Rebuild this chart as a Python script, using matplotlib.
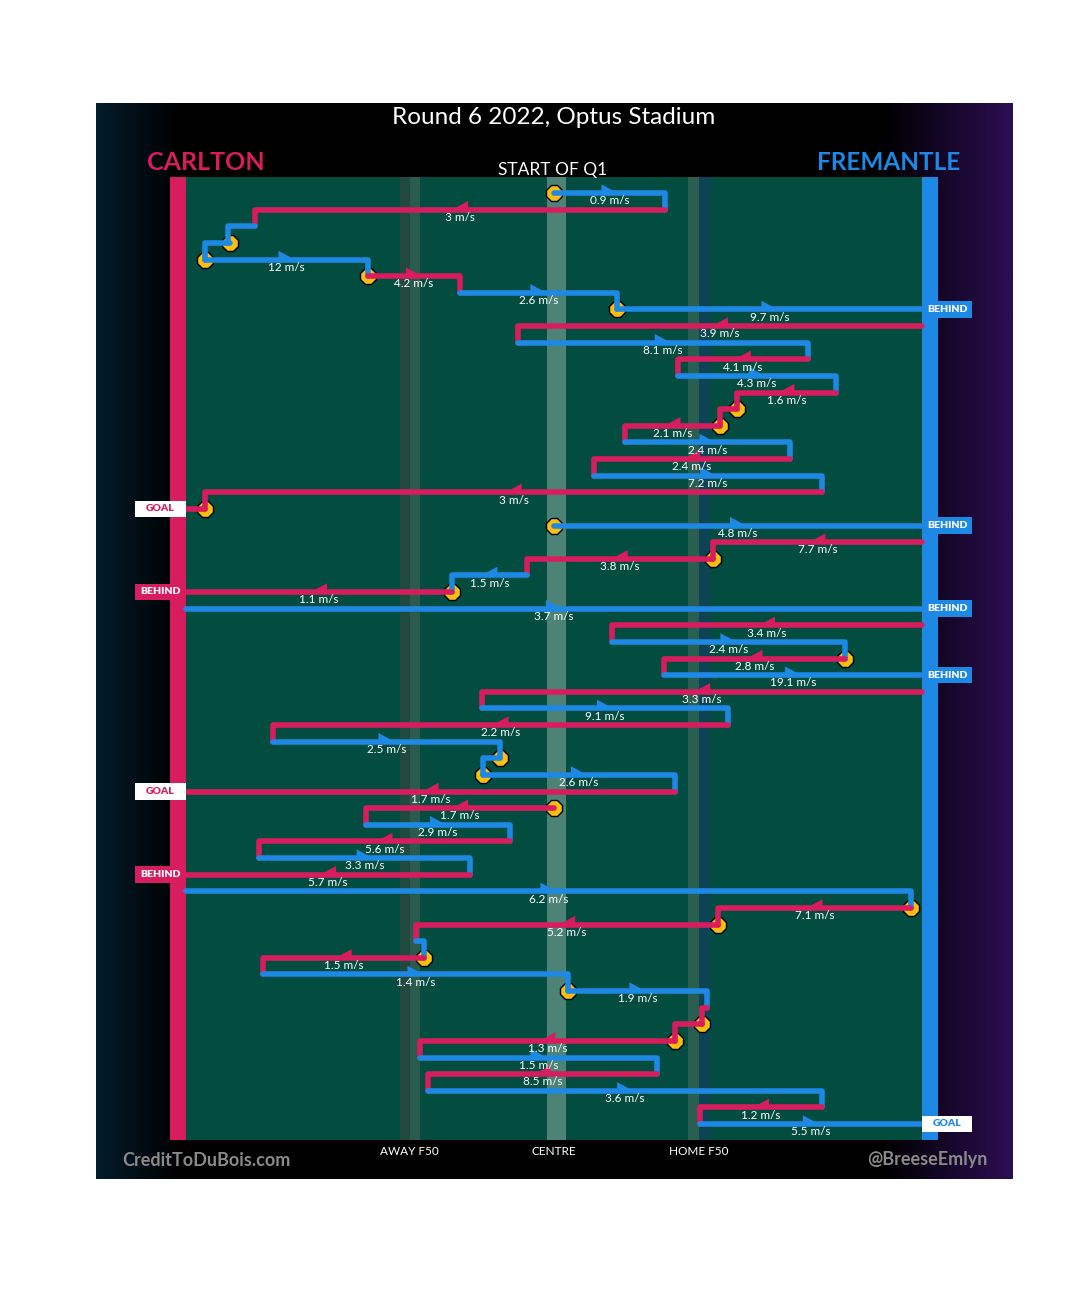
import numpy as np
import matplotlib
matplotlib.use("Agg")
import matplotlib.pyplot as plt
from matplotlib.patches import Polygon, Rectangle

plt.rcParams['font.family'] = ['Lato', 'DejaVu Sans']

# ---------------- data (metres from Carlton goal, 0..165) ----------------
teams = ['F', 'C', 'F', 'F', 'F', 'C', 'F', 'F', 'C', 'F',
         'C', 'F', 'C', 'C', 'C', 'F', 'C', 'F', 'C', 'C',
         'F', 'C', 'C', 'F', 'C', 'F', 'C', 'F', 'C', 'F',
         'C', 'F', 'C', 'F', 'F', 'F', 'C', 'C', 'F', 'C',
         'F', 'C', 'F', 'C', 'C', 'F', 'C', 'F', 'F', 'C',
         'C', 'C', 'F', 'C', 'F', 'C', 'F']
x_start = [82.5, 107.4, 15.5, 9.9, 4.3, 40.8, 61.4, 96.6, 165, 74.4,
           139.4, 110.3, 145.7, 123.5, 119.7, 98.4, 135.4, 91.5, 142.6, 4.3,
           82.5, 165, 118.1, 76.4, 59.6, 0, 165, 95.5, 147.7, 107.2,
           165, 66.4, 121.5, 19.5, 70.4, 66.6, 109.6, 82.5, 40.4, 72.6,
           16.4, 63.7, 0, 162.5, 119.3, 51.6, 53.4, 17.3, 85.6, 116.8,
           115.7, 109.6, 52.5, 105.6, 54.3, 142.6, 115.2]
x_end = [107.4, 15.5, 9.4, 4.3, 40.8, 61.4, 96.6, 165, 74.4, 139.4,
         110.3, 145.7, 123.5, 119.7, 98.4, 135.4, 91.5, 142.6, 4.3, 0,
         165, 118.1, 76.4, 59.6, 0, 165, 95.5, 147.7, 107.2, 165,
         66.4, 121.5, 19.5, 70.4, 66.6, 109.6, 0, 40.4, 72.6, 16.4,
         63.7, 0, 162.5, 119.3, 51.6, 53.4, 17.3, 85.6, 116.8, 115.7,
         109.6, 52.5, 105.6, 54.3, 142.6, 115.2, 165]
speed = [0.9, 3, np.nan, np.nan, 12, 4.2, 2.6, 9.7, 3.9, 8.1,
         4.1, 4.3, 1.6, np.nan, 2.1, 2.4, 2.4, 7.2, 3, np.nan,
         4.8, 7.7, 3.8, 1.5, 1.1, 3.7, 3.4, 2.4, 2.8, 19.1,
         3.3, 9.1, 2.2, 2.5, np.nan, 2.6, 1.7, 1.7, 2.9, 5.6,
         3.3, 5.7, 6.2, 7.1, 5.2, np.nan, 1.5, 1.4, 1.9, np.nan,
         np.nan, 1.3, 1.5, 8.5, 3.6, 1.2, 5.5]
stoppage = [1, 0, 0, 1, 1, 1, 0, 1, 0, 0,
            0, 0, 0, 1, 1, 0, 0, 0, 0, 1,
            1, 0, 1, 0, 1, 0, 0, 0, 1, 0,
            0, 0, 0, 0, 1, 1, 0, 1, 0, 0,
            0, 0, 0, 1, 1, 0, 1, 0, 1, 0,
            1, 1, 0, 0, 0, 0, 0]
outcome = ['', '', '', '', '', '', '', 'BEHIND', '', '',
           '', '', '', '', '', '', '', '', '', 'GOAL',
           'BEHIND', '', '', '', 'BEHIND', 'BEHIND', '', '', '', 'BEHIND',
           '', '', '', '', '', '', 'GOAL', '', '', '',
           '', 'BEHIND', '', '', '', '', '', '', '', '',
           '', '', '', '', '', '', 'GOAL']
field_marks = [50.0, 82.5, 115.0]
field_mark_labels = ['AWAY F50', 'CENTRE', 'HOME F50']

# ---------------- style ----------------
PINK = '#d81d5f'
BLUE = '#1e88e5'
FIELD = '#024d3f'
YELLOW = '#fcbf10'
team_col = {'C': PINK, 'F': BLUE}

W, H = 1080, 1295
fig = plt.figure(figsize=(W / 100, H / 100), dpi=100, facecolor='white')


def fx(px):
    return px / W


def fy(py):
    return 1 - py / H


# background panel with horizontal gradient
bg = fig.add_axes([fx(96), fy(1179), (1013 - 96) / W, (1179 - 103) / H])
stops = np.array([0.0, 0.09, 0.86, 1.0])
cols = np.array([[3, 28, 44], [0, 0, 0], [0, 0, 0], [44, 14, 84]]) / 255.0
xs = np.linspace(0, 1, 600)
grad = np.stack([np.interp(xs, stops, cols[:, k]) for k in range(3)], axis=-1)
bg.imshow(grad[None, :, :], aspect='auto', extent=[0, 1, 0, 1])
bg.set_axis_off()

# field axes
PXM = 736 / 165.0
ROW = 16.625
n = len(teams)
ax = fig.add_axes([fx(170), fy(1140), (938 - 170) / W, (1140 - 177) / H])
xmin, xmax = -16 / PXM, 165 + 16 / PXM
ax.set_xlim(xmin, xmax)
ax.set_ylim(n - 1 + 16 / ROW, -16 / ROW)
ax.set_facecolor('none')
for s in ax.spines.values():
    s.set_visible(False)
ax.set_yticks([])
ax.set_xticks(field_marks, field_mark_labels)
ax.tick_params(axis='x', length=0, colors='white', labelsize=8.5, pad=4)

ax.axvspan(0, 165, color=FIELD, zorder=0, lw=0)
ax.axvspan(48.0, 50.2, color='#21493e', zorder=0.5, lw=0)
ax.axvspan(50.2, 52.5, color='#2a5b4e', zorder=0.5, lw=0)
ax.axvspan(81.0, 85.3, color='#4d8277', zorder=0.5, lw=0)
ax.axvspan(112.5, 115.0, color='#2a5e51', zorder=0.5, lw=0)
ax.axvspan(115.0, 117.5, color='#0c4456', zorder=0.5, lw=0)
ax.axvspan(xmin, 0, color=PINK, zorder=1, lw=0)
ax.axvspan(165, xmax, color=BLUE, zorder=1, lw=0)

L, h = 3.6, 0.52
for i in range(n):
    c = team_col[teams[i]]
    s, e = x_start[i], x_end[i]
    px = [s, e]
    py = [i, i]
    if outcome[i] == '' and i < n - 1:
        px.append(e)
        py.append(i + 1)
    ax.plot(px, py, color=c, lw=4, solid_capstyle='round',
            solid_joinstyle='round', zorder=3 + i * 0.001)
    if stoppage[i]:
        ax.plot(s, i, marker='8', ms=12, mfc=YELLOW, mec='black', mew=1,
                zorder=2.5)
    if not np.isnan(speed[i]):
        mid = (s + e) / 2
        d = 1 if e > s else -1
        ax.add_patch(Polygon([(mid - d * L / 2, i), (mid - d * L / 2, i - h),
                              (mid + d * L / 2, i)], closed=True, color=c,
                             lw=0, zorder=3.5))
        ax.text(mid, i + 0.47, f"{speed[i]:g} m/s", ha='center', va='center',
                color='white', fontsize=8.5, zorder=5)
    if outcome[i]:
        if teams[i] == 'C':
            x0, x1 = -51 / PXM, 0
        else:
            x0, x1 = 165, 165 + 50 / PXM
        if outcome[i] == 'GOAL':
            fc, tc = 'white', c
        else:
            fc, tc = c, 'white'
        ax.add_patch(Rectangle((x0, i - 0.5), x1 - x0, 1.0, facecolor=fc,
                               lw=0, zorder=6, clip_on=False))
        ax.text((x0 + x1) / 2, i, outcome[i], ha='center', va='center',
                color=tc, fontsize=7.5, fontweight='heavy', zorder=7,
                clip_on=False)

# texts
fig.text(fx(554), fy(117), 'Round 6 2022, Optus Stadium', ha='center',
         va='center', color='white', fontsize=17.5)
fig.text(fx(147), fy(162), 'CARLTON', ha='left', va='center', color=PINK,
         fontsize=18, fontweight='bold')
fig.text(fx(960), fy(162), 'FREMANTLE', ha='right', va='center', color=BLUE,
         fontsize=17.5, fontweight='bold')
fig.text(fx(553), fy(170), 'START OF Q1', ha='center', va='center',
         color='white', fontsize=12.5)
fig.text(fx(122), fy(1160), 'CreditToDuBois.com', ha='left', va='center',
         color='#8a8a8a', fontsize=13, fontweight='bold')
fig.text(fx(987), fy(1160), '@BreeseEmlyn', ha='right', va='center',
         color='#8a8a8a', fontsize=13, fontweight='bold')

fig.savefig('out.png', dpi=100, facecolor='white')
